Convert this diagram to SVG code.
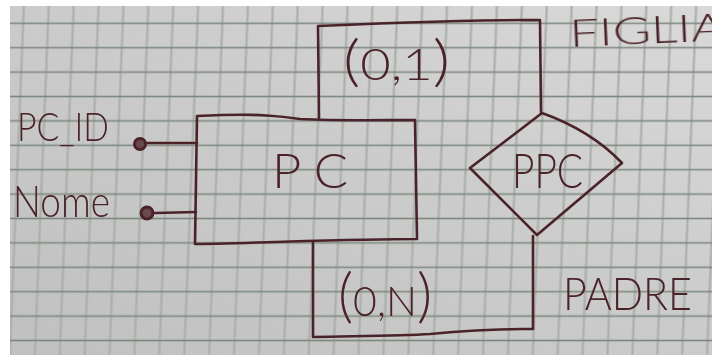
<svg xmlns="http://www.w3.org/2000/svg" width="712" height="355" viewBox="0 0 712 355">
  <defs>
    <!-- squared exercise-book paper -->
    <linearGradient id="paperShade" x1="0" y1="1" x2="1" y2="0">
      <stop offset="0" stop-color="#c0c0c0"/>
      <stop offset="0.55" stop-color="#cccccc"/>
      <stop offset="1" stop-color="#d9d9d9"/>
    </linearGradient>
    <pattern id="squares" patternUnits="userSpaceOnUse" x="11.65" y="11.1" width="24.9" height="24.4" patternTransform="skewX(-2.3)">
      <line x1="12.45" y1="0" x2="12.45" y2="24.4" stroke="#aab0a9" stroke-width="2.2"/>
      <line x1="0" y1="12.2" x2="24.9" y2="12.2" stroke="#7d897f" stroke-width="1.6"/>
    </pattern>
    <filter id="soft" x="-5%" y="-5%" width="110%" height="110%">
      <feGaussianBlur stdDeviation="0.5"/>
    </filter>
    <filter id="inkSoft" x="-5%" y="-5%" width="110%" height="110%">
      <feGaussianBlur stdDeviation="0.35"/>
    </filter>
  </defs>
  <style>
    .ink { fill: none; stroke: #4a2329; stroke-width: 2.6; stroke-linecap: round; stroke-linejoin: round; }
    .hand { fill: #4a2329; font-family: Lato, "Open Sans", "DejaVu Sans", sans-serif; font-weight: 300; }
    .dot { fill: #6a4a4e; stroke: #4a2329; stroke-width: 3; }
  </style>

  <!-- page and margins -->
  <rect x="0" y="0" width="712" height="355" fill="#ffffff"/>
  <rect x="10" y="6" width="702" height="349" fill="url(#paperShade)"/>
  <rect x="10" y="6" width="702" height="349" fill="url(#squares)" filter="url(#soft)"/>

  <g filter="url(#inkSoft)">
    <!-- connectors: attribute links and the two role loops of the recursive relationship -->
    <g id="connectors" class="ink">
      <path d="M146,143 L197,143"/>
      <path d="M155,213 L196,212"/>
      <path d="M319,118 L318,26 C390,23 470,20 540,20 L541,112"/>
      <path d="M313,243 L313,337 C360,336 400,336 430,334 C470,330 500,329 533,329 L533,236"/>
    </g>

    <!-- entity PC -->
    <g id="entity-PC">
      <path class="ink" d="M197,116 C240,114 265,114 300,119 C340,121 380,120 415,120 L417,239 C350,239 260,243 195,244 L197,116"/>
      <text class="hand" x="272" y="188" font-size="48" textLength="76" lengthAdjust="spacingAndGlyphs">P C</text>
    </g>

    <!-- relationship PPC -->
    <g id="relationship-PPC">
      <path class="ink" d="M542,113 C570,123 600,140 622,163 L537,235 L470,168 Z"/>
      <text class="hand" x="512" y="188" font-size="48" textLength="71" lengthAdjust="spacingAndGlyphs">PPC</text>
    </g>

    <!-- attributes of PC -->
    <g id="attr-PC_ID">
      <circle class="dot" cx="140" cy="144" r="5.5"/>
      <text class="hand" x="17" y="141" font-size="40" textLength="92" lengthAdjust="spacingAndGlyphs">PC_ID</text>
    </g>
    <g id="attr-Nome">
      <circle class="dot" cx="147" cy="213" r="6"/>
      <text class="hand" x="13" y="217" font-size="44" textLength="97" lengthAdjust="spacingAndGlyphs">Nome</text>
    </g>

    <!-- role names and cardinalities -->
    <g id="role-FIGLIA">
      <text class="hand" x="570" y="47" font-size="37" textLength="156" lengthAdjust="spacingAndGlyphs" transform="rotate(-2.5 570 47)">FIGLIA</text>
      <text class="hand" x="343" y="80" font-size="44" textLength="107" lengthAdjust="spacingAndGlyphs"><tspan font-size="56">(</tspan>0,1<tspan font-size="56">)</tspan></text>
    </g>
    <g id="role-PADRE">
      <text class="hand" x="563" y="310" font-size="46" textLength="129" lengthAdjust="spacingAndGlyphs">PADRE</text>
      <text class="hand" x="338" y="316" font-size="42" textLength="94" lengthAdjust="spacingAndGlyphs"><tspan font-size="60">(</tspan>0,N<tspan font-size="60">)</tspan></text>
    </g>
  </g>
</svg>
